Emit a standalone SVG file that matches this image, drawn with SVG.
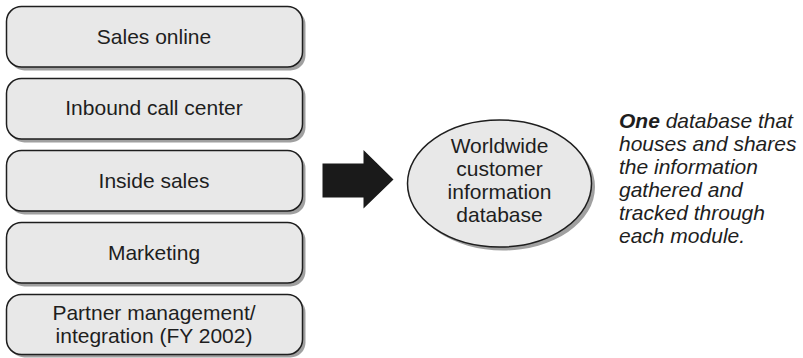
<svg xmlns="http://www.w3.org/2000/svg" width="803" height="358" viewBox="0 0 803 358">
  <style>
    .box { fill: #e8e8e8; stroke: #1e1e1e; stroke-width: 1.5; }
    .shadow { fill: #a0a0a0; }
    .label { font-family: "Liberation Sans", Arial, sans-serif; font-size: 21px; fill: #1e1e1e; text-anchor: middle; }
    .note { font-family: "Liberation Sans", Arial, sans-serif; font-size: 21px; font-style: italic; fill: #1e1e1e; }
  </style>
  <rect width="803" height="358" fill="#ffffff"/>

  <g id="sales-online">
    <rect class="shadow" x="9.5" y="9.5" width="296" height="61" rx="15"/>
    <rect class="box" x="6.5" y="6.5" width="296" height="60.5" rx="15"/>
    <text class="label" x="154" y="43.5">Sales online</text>
  </g>

  <g id="inbound-call-center">
    <rect class="shadow" x="9.5" y="81.5" width="296" height="61" rx="15"/>
    <rect class="box" x="6.5" y="78.5" width="296" height="60.5" rx="15"/>
    <text class="label" x="154" y="115">Inbound call center</text>
  </g>

  <g id="inside-sales">
    <rect class="shadow" x="9.5" y="153.5" width="296" height="61" rx="15"/>
    <rect class="box" x="6.5" y="150.5" width="296" height="60.5" rx="15"/>
    <text class="label" x="154" y="187.5">Inside sales</text>
  </g>

  <g id="marketing">
    <rect class="shadow" x="9.5" y="225.5" width="296" height="61" rx="15"/>
    <rect class="box" x="6.5" y="222.5" width="296" height="60.5" rx="15"/>
    <text class="label" x="154" y="259.5">Marketing</text>
  </g>

  <g id="partner-management">
    <rect class="shadow" x="9.5" y="297.5" width="296" height="60" rx="15"/>
    <rect class="box" x="6.5" y="294.5" width="296" height="60" rx="15"/>
    <text class="label" x="154" y="320">Partner management/</text>
    <text class="label" x="154" y="342.5">integration (FY 2002)</text>
  </g>

  <g id="connectors">
    <polygon points="322.5,163.5 363.5,163.5 363.5,150 393.5,179.5 363.5,208.5 363.5,197.5 322.5,197.5" fill="#1a1a1a"/>
  </g>

  <g id="customer-database">
    <ellipse class="shadow" cx="503" cy="187" rx="92" ry="63.5"/>
    <ellipse class="box" cx="499.5" cy="183.5" rx="92" ry="63.5"/>
    <text class="label" x="499.5" y="153">Worldwide</text>
    <text class="label" x="499.5" y="176">customer</text>
    <text class="label" x="499.5" y="199">information</text>
    <text class="label" x="499.5" y="222">database</text>
  </g>

  <g id="note">
    <text class="note" x="619" y="128"><tspan font-weight="bold">One</tspan> database that</text>
    <text class="note" x="619" y="151">houses and shares</text>
    <text class="note" x="619" y="174">the information</text>
    <text class="note" x="619" y="197">gathered and</text>
    <text class="note" x="619" y="220">tracked through</text>
    <text class="note" x="619" y="243">each module.</text>
  </g>
</svg>
